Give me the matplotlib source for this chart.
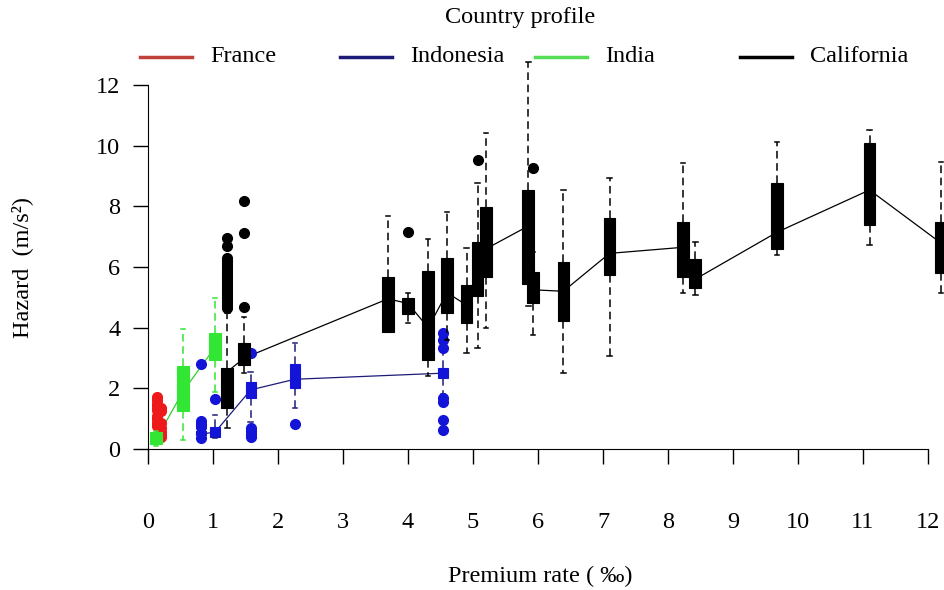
import matplotlib
matplotlib.use("Agg")
import matplotlib.pyplot as plt
from matplotlib.lines import Line2D

plt.rcParams['font.family'] = ['Liberation Serif', 'DejaVu Serif']

# ---- data ----
# France
fr_pos = [0.14, 0.20]
fr_q1 = [0.95, 0.45]
fr_med = [1.20, 0.65]
fr_q3 = [1.55, 0.95]
fr_lo = [0.70, 0.36]
fr_hi = [1.65, 1.20]
fr_fliers = [[1.70, 1.62, 1.50, 1.40, 1.30, 1.10, 1.00, 0.85, 0.75],
             [1.35, 1.25, 0.85, 0.70, 0.55, 0.45, 0.40]]

# Indonesia
id_pos = [0.82, 1.03, 1.58, 2.26, 4.54]
id_q1 = [0.45, 0.40, 1.68, 2.00, 2.34]
id_med = [0.50, 0.55, 1.95, 2.30, 2.50]
id_q3 = [0.60, 0.73, 2.20, 2.80, 2.67]
id_lo = [0.45, 0.36, 0.90, 1.35, 1.80]
id_hi = [0.60, 1.12, 2.54, 3.50, 3.20]
id_fliers = [[0.35, 0.72, 0.82, 0.92, 2.80],
             [1.65],
             [3.15, 0.38, 0.50, 0.60, 0.70],
             [0.82],
             [3.33, 3.60, 3.82, 1.55, 1.68, 0.96, 0.63]]

# India
in_pos = [0.12, 0.54, 1.03]
in_q1 = [0.15, 1.25, 2.95]
in_med = [0.30, 1.90, 3.35]
in_q3 = [0.55, 2.74, 3.82]
in_lo = [0.10, 0.30, 1.88]
in_hi = [0.60, 3.95, 4.98]
in_fliers = [[], [], []]

# California
ca_pos = [1.22, 1.48, 3.69, 4.00, 4.31, 4.60, 4.90, 5.07, 5.20, 5.85,
          5.92, 6.39, 7.10, 8.23, 8.42, 9.68, 11.10, 12.20]
ca_q1 = [1.35, 2.77, 3.86, 4.45, 2.93, 4.48, 4.15, 5.04, 5.67, 5.45,
         4.81, 4.22, 5.74, 5.67, 5.31, 6.59, 7.38, 5.80]
ca_med = [2.55, 3.00, 4.95, 4.80, 4.00, 5.15, 4.75, 5.40, 6.60, 7.35,
          5.25, 5.20, 6.45, 6.65, 5.60, 7.15, 8.54, 6.79]
ca_q3 = [2.67, 3.50, 5.67, 4.98, 5.87, 6.30, 5.41, 6.83, 7.98, 8.54,
         5.84, 6.17, 7.62, 7.48, 6.26, 8.77, 10.08, 7.48]
ca_lo = [0.69, 2.50, 3.86, 4.15, 2.40, 3.60, 3.17, 3.33, 3.99, 4.70,
         3.76, 2.50, 3.07, 5.14, 5.08, 6.40, 6.72, 5.14]
ca_hi = [4.50, 4.35, 7.68, 5.14, 6.92, 7.80, 6.63, 8.77, 10.42, 12.76,
         6.50, 8.54, 8.93, 9.43, 6.83, 10.12, 10.52, 9.46]
ca_fliers = [[4.65, 4.72, 4.80, 4.88, 4.95, 5.02, 5.10, 5.18, 5.25, 5.32,
              5.40, 5.48, 5.55, 5.62, 5.70, 5.78, 5.85, 5.92, 6.00, 6.08,
              6.15, 6.22, 6.30, 6.70, 6.95],
             [4.68, 7.12, 8.18],
             [], [7.15], [], [], [], [9.53], [], [],
             [9.26], [], [], [], [], [], [], []]

countries = ['France', 'Indonesia', 'India', 'California']
box_colors = ['#ee1a1a', '#1414d8', '#33e633', 'black']
whisk_colors = ['#ee1a1a', '#1c1c78', '#33e633', 'black']
line_colors = ['#ee1a1a', '#1c1c78', '#33cc33', 'black']
legend_colors = ['#c0403a', '#1c1c78', '#55dd55', 'black']


def make_stats(q1, med, q3, lo, hi, fliers):
    return [dict(q1=a, med=b, q3=c, whislo=d, whishi=e, fliers=f)
            for a, b, c, d, e, f in zip(q1, med, q3, lo, hi, fliers)]


groups = [
    (fr_pos, make_stats(fr_q1, fr_med, fr_q3, fr_lo, fr_hi, fr_fliers), 0.12),
    (id_pos, make_stats(id_q1, id_med, id_q3, id_lo, id_hi, id_fliers), 0.15),
    (in_pos, make_stats(in_q1, in_med, in_q3, in_lo, in_hi, in_fliers), 0.18),
    (ca_pos, make_stats(ca_q1, ca_med, ca_q3, ca_lo, ca_hi, ca_fliers), 0.18),
]

fig = plt.figure(figsize=(9.44, 5.90), dpi=100)
W, H = 944, 590
x0_px, x_unit = 148, 65.0
y0_px, y_unit = 449, 30.33
xmin, xmax = -0.3, 12.4
ymin, ymax = -0.2, 12.9
ax = fig.add_axes([(x0_px + xmin * x_unit) / W,
                   (H - y0_px + ymin * y_unit) / H,
                   (xmax - xmin) * x_unit / W,
                   (ymax - ymin) * y_unit / H])

for (pos, stats, w), bc, wc, lc in zip(groups, box_colors, whisk_colors, line_colors):
    meds = [s['med'] for s in stats]
    ax.plot(pos, meds, color=lc, lw=0.9, zorder=1)
    ax.bxp(stats, positions=pos, widths=w, capwidths=0.07,
           patch_artist=True, manage_ticks=False,
           boxprops=dict(facecolor=bc, edgecolor=bc, lw=0.8),
           medianprops=dict(color=bc, lw=0.8),
           whiskerprops=dict(color=wc, linestyle=(0, (5, 3)), lw=1.1),
           capprops=dict(color=wc, lw=1.1),
           flierprops=dict(marker='o', markerfacecolor=bc,
                           markeredgecolor=bc, markersize=7))

ax.set_xlim(xmin, xmax)
ax.set_ylim(ymin, ymax)
for s in ['top', 'right']:
    ax.spines[s].set_visible(False)
ax.spines['left'].set_position(('data', 0))
ax.spines['bottom'].set_position(('data', 0))
ax.spines['left'].set_bounds(0, 12)
ax.spines['bottom'].set_bounds(0, 12)
ax.set_xticks(range(0, 13))
ax.set_yticks(range(0, 13, 2))
ax.tick_params(axis='x', length=11, width=1, pad=34, labelsize=17.5)
ax.tick_params(axis='y', length=11, width=1, pad=9, labelsize=17.5)

fig.text(22 / W, 1 - 268 / H, 'Hazard  (m/s²)', rotation=90,
         ha='center', va='center', fontsize=17.5)
fig.text(540 / W, 1 - 576 / H, 'Premium rate ( ‰)', ha='center',
         va='center', fontsize=17.5)
fig.text(520 / W, 1 - 17 / H, 'Country profile', ha='center',
         va='center', fontsize=17.5)

leg_x = [140, 340, 535, 740]
for lx, name, col in zip(leg_x, countries, legend_colors):
    fig.add_artist(Line2D([lx / W, (lx + 52) / W], [1 - 57 / H, 1 - 57 / H],
                          color=col, lw=2.5))
    fig.text((lx + 70) / W, 1 - 57 / H, name, ha='left', va='center',
             fontsize=17.5)

fig.savefig('out.png', dpi=100)
